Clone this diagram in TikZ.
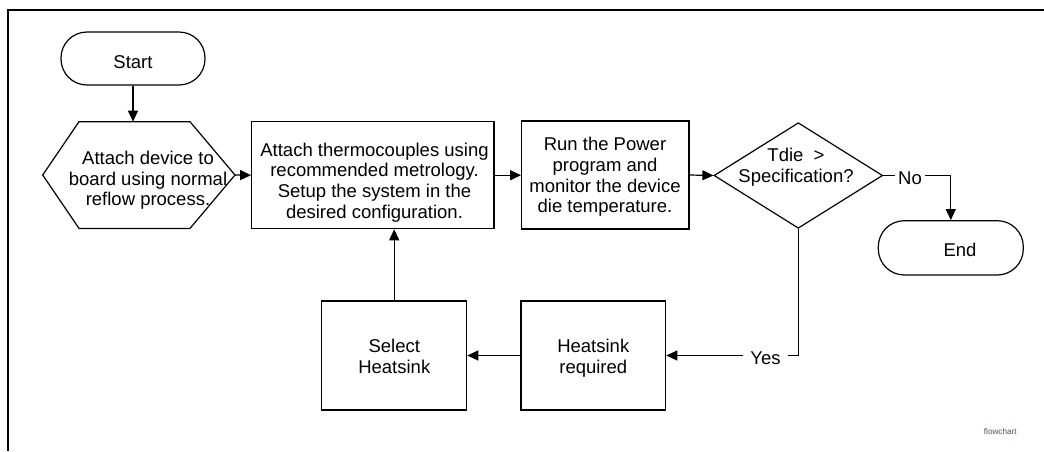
\documentclass[tikz,border=0pt]{standalone}
\usepackage{fontspec}
\setmainfont{Liberation Sans}
\usetikzlibrary{arrows.meta,shapes.geometric}
\definecolor{tagblue}{RGB}{70,80,130}
\begin{document}
\begin{tikzpicture}[x=1pt,y=-1pt,
  outline/.style={draw, line width=1.2pt, inner sep=0pt},
  box/.style={outline, rectangle},
  term/.style={outline, rectangle, rounded corners=26pt},
  decision/.style={outline, diamond},
  txt/.style={align=center, font=\fontsize{18.5}{20.7}\selectfont, inner sep=0pt,
    execute at begin node=\strut, execute at end node=\strut},
  lab/.style={font=\fontsize{18.5}{20.5}\selectfont, fill=white, inner ysep=2pt},
  wire/.style={line width=1.2pt},
  conn/.style={wire, -{Triangle[length=11pt,width=10pt]}}
]
\useasboundingbox (0,0) rectangle (1044,451);
% frame
\draw[line width=2.5pt] (8,451) -- (8,10) -- (1044,10);

% shapes
\node[term, minimum width=144pt, minimum height=53pt] (start) at (133,58.5) {};
\draw[outline] (42.7,175) -- (79,121.7) -- (190,121.7) -- (235,175) -- (190,228.4) -- (79,228.4) -- cycle;
\coordinate (hexT) at (133,121.7);
\coordinate (hexR) at (235,175);
\node[box, minimum width=242.3pt, minimum height=107pt] (b1) at (372.85,175.2) {};
\node[box, minimum width=167.3pt, minimum height=108pt] (b2) at (605.35,175) {};
\node[decision, minimum width=168.7pt, minimum height=105.6pt] (dia) at (798.3,175.5) {};
\node[term, minimum width=145pt, minimum height=54.3pt] (end) at (950.8,247.85) {};
\node[box, minimum width=144.7pt, minimum height=109pt] (hr) at (593.35,355.5) {};
\node[box, minimum width=145pt, minimum height=109pt] (sel) at (394.2,355.5) {};

% texts
\node[txt] (tstart) at (133,63.9) {Start};
\node[txt] (tend) at (960,252.6) {End};
\node[txt] (thex) at (148,181.6) {Attach device to\\board using normal\\reflow process.};
\node[txt] (tb1) at (374.5,183.6) {Attach thermocouples using\\recommended metrology.\\Setup the system in the\\desired configuration.};
\node[txt] (tb2) at (605,178.1) {Run the Power\\program and\\monitor the device\\die temperature.};
\node[txt] (tdia) at (796,168.4) {Tdie\ \ >\\Specification?};
\node[txt] (thr) at (593.3,359.6) {Heatsink\\required};
\node[txt] (tsel) at (394.3,359.6) {Select\\Heatsink};

% connectors
\draw[conn] (start.south) -- (hexT);
\draw[conn] (hexR) -- (b1.west);
\draw[conn] (b1.east) -- (b2.west |- b1.east);
\draw[conn] (b2.east) -- (dia.west);
\draw[conn] (dia.east) -| (end.north);
\draw[conn] (dia.south) |- (hr.east);
\draw[conn] (hr.west) -- (sel.east);
\draw[conn] (sel.north) -- (sel.north |- b1.south);

% connector labels
\node[lab, inner xsep=3pt] (lno) at (910,178.35) {No};
\node[lab, inner xsep=7pt] (lyes) at (765.5,358.35) {Yes};

% tag
\node[font=\fontsize{8.2}{9}\selectfont, text=tagblue, inner sep=0pt] (tag) at (1000.3,431.7) {flowchart};
\end{tikzpicture}
\end{document}
